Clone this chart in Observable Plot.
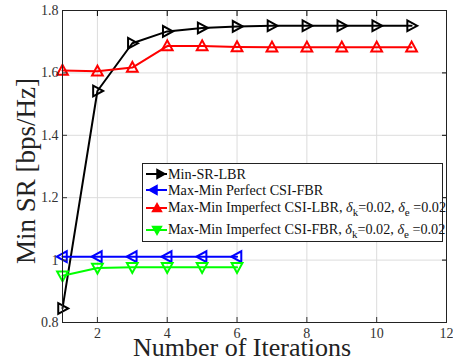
<!DOCTYPE html>
<html><head><meta charset="utf-8">
<script src="https://cdn.jsdelivr.net/npm/d3@7"></script>
<script src="https://cdn.jsdelivr.net/npm/@observablehq/plot@0.6"></script>
<style>
body{margin:0;background:#fff;}
#wrap{position:relative;width:453px;height:360px;overflow:hidden;}
#wrap, #wrap *, #wrap svg text{font-family:"Liberation Serif","Times New Roman",serif !important;}
#legend{position:absolute;left:142px;top:163px;width:301px;height:79px;border:1px solid #222;background:#fff;box-sizing:border-box;font-size:14.2px;color:#111;}
.row{position:absolute;left:2px;display:flex;align-items:center;white-space:nowrap;}
sub{font-size:11px;vertical-align:-4px;}
i.d{font-style:italic;}
</style></head>
<body><div id="wrap"></div>
<script>
const FONT = "Liberation Serif, Times New Roman, serif";
const iterLong = [1,2,3,4,5,6,7,8,9,10,11];
const iterShort = [1,2,3,4,5,6];
const minSR = [0.845,1.542,1.695,1.733,1.744,1.749,1.751,1.751,1.751,1.751,1.751];
const perfectFBR = [1.011,1.011,1.011,1.011,1.011,1.011];
const imperfectLBR = [1.608,1.605,1.617,1.686,1.686,1.683,1.682,1.682,1.682,1.682,1.682];
const imperfectFBR = [0.950,0.975,0.977,0.977,0.977,0.977];
const xTicks = [2,4,6,8,10,12];
const yTicks = [0.8,1,1.2,1.4,1.6,1.8];
const yTickLabels = ["0.8","1","1.2","1.4","1.6","1.8"];

function tri(dir){
  return {draw(ctx,size){
    const s = Math.sqrt(size)*0.64;
    const pts = {
      up:[[0,-s],[-s*0.95,s*0.75],[s*0.95,s*0.75]],
      down:[[0,s],[-s*0.95,-s*0.75],[s*0.95,-s*0.75]],
      right:[[s,0],[-s*0.75,-s*0.95],[-s*0.75,s*0.95]],
      left:[[-s,0],[s*0.75,-s*0.95],[s*0.75,s*0.95]]
    }[dir];
    ctx.moveTo(pts[0][0],pts[0][1]);ctx.lineTo(pts[1][0],pts[1][1]);ctx.lineTo(pts[2][0],pts[2][1]);ctx.closePath();
  }};
}

const series = [
  {name:"Min-SR-LBR", x:iterLong, y:minSR, color:"#000000", sym:tri("right")},
  {name:"Max-Min Perfect CSI-FBR", x:iterShort, y:perfectFBR, color:"#0000ff", sym:tri("left")},
  {name:"Max-Min Imperfect CSI-LBR", x:iterLong, y:imperfectLBR, color:"#ff0000", sym:tri("up")},
  {name:"Max-Min Imperfect CSI-FBR", x:iterShort, y:imperfectFBR, color:"#00ff00", sym:tri("down")}
];

const marks = [
  Plot.gridX(xTicks,{stroke:"#dcdcdc",strokeOpacity:1}),
  Plot.gridY(yTicks,{stroke:"#dcdcdc",strokeOpacity:1}),
];
for (const s of series){
  const data = s.x.map((x,i)=>({x, y:s.y[i]}));
  marks.push(Plot.line(data,{x:"x",y:"y",stroke:s.color,strokeWidth:2}));
  marks.push(Plot.dot(data,{x:"x",y:"y",stroke:s.color,strokeWidth:2,fill:"none",symbol:s.sym,r:5}));
}
marks.push(Plot.axisX(xTicks,{tickSize:-5,tickPadding:11,fontSize:14,fontFamily:FONT,color:"#333",label:null}));
marks.push(Plot.axisX(xTicks,{anchor:"top",tickSize:-5,tickFormat:()=>"",label:null}));
marks.push(Plot.axisY(yTicks,{tickSize:-5,tickPadding:9,fontSize:14,fontFamily:FONT,color:"#333",label:null,tickFormat:(d,i)=>yTickLabels[i]}));
marks.push(Plot.axisY(yTicks,{anchor:"right",tickSize:-5,tickFormat:()=>"",label:null}));
marks.push(Plot.frame({stroke:"#222",strokeWidth:1}));

const chart = Plot.plot({
  width:453,height:360,
  marginLeft:62,marginRight:7,marginTop:10,marginBottom:38,
  style:{fontFamily:FONT,background:"#fff",overflow:"visible"},
  x:{domain:[1,12]},
  y:{domain:[0.8,1.8]},
  marks
});
const wrap = document.getElementById("wrap");
wrap.appendChild(chart);

const svgNS="http://www.w3.org/2000/svg";
function addText(txt,x,y,rot,size){
  const t=document.createElementNS(svgNS,"text");
  t.textContent=txt;t.setAttribute("x",x);t.setAttribute("y",y);
  t.setAttribute("text-anchor","middle");t.setAttribute("font-size",size);
  t.setAttribute("fill","#222");t.setAttribute("font-family",FONT);
  if(rot) t.setAttribute("transform",`rotate(-90 ${x} ${y})`);
  chart.appendChild(t);
}
addText("Number of Iterations",242,356,false,26);
addText("Min SR [bps/Hz]",35,171,true,27);

const legend=document.createElement("div");legend.id="legend";
const rowsY=[0,16,34,56];
const labels=[
  "Min-SR-LBR",
  "Max-Min Perfect CSI-FBR",
  'Max-Min Imperfect CSI-LBR, <i class="d">δ</i><sub>k</sub>=0.02, <i class="d">δ</i><sub>e</sub> =0.02',
  'Max-Min Imperfect CSI-FBR, <i class="d">δ</i><sub>k</sub>=0.02, <i class="d">δ</i><sub>e</sub> =0.02'
];
const paths={right:"M20,10 L12,5.5 L12,14.5 Z",left:"M4,10 L12,5.5 L12,14.5 Z",up:"M12,5.5 L7.5,13.5 L16.5,13.5 Z",down:"M12,14.5 L7.5,6.5 L16.5,6.5 Z"};
const dirs=["right","left","up","down"];
series.forEach((s,i)=>{
  const r=document.createElement("div");r.className="row";r.style.top=rowsY[i]+"px";
  r.innerHTML=`<svg width="23" height="20"><line x1="1" x2="22" y1="10" y2="10" stroke="${s.color}" stroke-width="2"/><path d="${paths[dirs[i]]}" fill="${s.color}" stroke="${s.color}" stroke-width="1.5"/></svg><span>${labels[i]}</span>`;
  legend.appendChild(r);
});
wrap.appendChild(legend);
</script></body></html>
